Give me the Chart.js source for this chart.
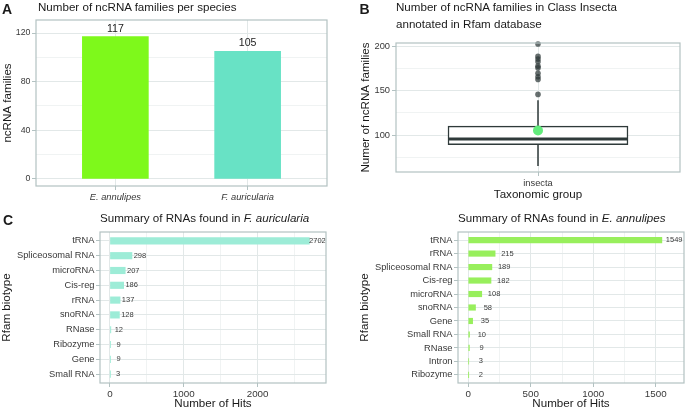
<!DOCTYPE html>
<html>
<head>
<meta charset="utf-8">
<title>ncRNA families</title>
<script src="https://cdn.jsdelivr.net/npm/chart.js@4.4.1/dist/chart.umd.min.js"></script>
<style>
  html, body { margin: 0; padding: 0; background: #fff; }
  #fig { position: relative; width: 685px; height: 413px; overflow: hidden;
         font-family: "Liberation Sans", Arial, sans-serif; color: #1a1a1a; }
  #fig canvas { position: absolute; }
  .tag { position: absolute; font-weight: bold; font-size: 14px; line-height: 1; }
  .ttl { position: absolute; font-size: 11.6px; line-height: 1; white-space: nowrap; }
</style>
</head>
<body>
<div id="fig">
  <canvas id="chartSpecies" width="335" height="205" style="left:0;top:0"></canvas>
  <canvas id="chartInsecta" width="345" height="206" style="left:340px;top:0"></canvas>
  <canvas id="chartFa" width="335" height="213" style="left:0;top:200px"></canvas>
  <canvas id="chartEa" width="345" height="213" style="left:340px;top:200px"></canvas>

  <div class="tag" style="left:2px;top:1.5px">A</div>
  <div class="ttl" style="left:38px;top:1.2px">Number of ncRNA families per species</div>

  <div class="tag" style="left:359.5px;top:1.5px">B</div>
  <div class="ttl" style="left:396px;top:1.2px">Number of ncRNA families in Class Insecta</div>
  <div class="ttl" style="left:396px;top:17.9px">annotated in Rfam database</div>

  <div class="tag" style="left:3px;top:212.5px">C</div>
  <div class="ttl" style="left:100px;top:211.9px">Summary of RNAs found in <i>F. auricularia</i></div>
  <div class="ttl" style="left:458px;top:211.9px">Summary of RNAs found in <i>E. annulipes</i></div>
</div>

<script>
// panel A
const species = ['E. annulipes', 'F. auricularia'];
const familyCounts = [117, 105];
const aYMajor = [0, 40, 80, 120];
const aYMinor = [20, 60, 100];

// panel B (Rfam, class Insecta)
const insectaGroup = ['insecta'];
const insectaBox = [89, 95.5, 110];        // Q1, median, Q3
const insectaWhiskers = [65, 139.5];
const insectaOutliers = [146, 163, 166, 170, 176, 178, 183, 186, 189, 203];
const ourSpecies = [105];
const bYMajor = [100, 150, 200];
const bYMinor = [75, 125, 175];

// panel C, F. auricularia
const faBiotypes = ['tRNA', 'Spliceosomal RNA', 'microRNA', 'Cis-reg', 'rRNA', 'snoRNA', 'RNase', 'Ribozyme', 'Gene', 'Small RNA'];
const faHits = [2702, 298, 207, 186, 137, 128, 12, 9, 9, 3];
const cXMajor = [0, 1000, 2000];
const cXMinor = [500, 1500, 2500];

// panel D, E. annulipes
const eaBiotypes = ['tRNA', 'rRNA', 'Spliceosomal RNA', 'Cis-reg', 'microRNA', 'snoRNA', 'Gene', 'Small RNA', 'RNase', 'Intron', 'Ribozyme'];
const eaHits = [1549, 215, 189, 182, 108, 58, 35, 10, 9, 3, 2];
const dXMajor = [0, 500, 1000, 1500];
const dXMinor = [250, 750, 1250];

const FONT = '"Liberation Sans", Arial, sans-serif';
const GRID_MAJOR = '#e2e8e8';
const GRID_MINOR = '#f0f3f3';
const FRAME = '#b3c2c2';
const TICK_TEXT = '#383838';
const INK = '#1a1a1a';
const BOX = '#2f3a3a';

Chart.defaults.font.family = FONT;
Chart.defaults.font.size = 9.3;
Chart.defaults.color = TICK_TEXT;
Chart.defaults.animation = false;
Chart.defaults.plugins.legend.display = false;
Chart.defaults.plugins.tooltip.enabled = false;

const framePlugin = {
  id: 'frame',
  afterDraw(chart) {
    const { ctx, chartArea: a } = chart;
    ctx.save();
    ctx.strokeStyle = FRAME;
    ctx.lineWidth = 1.2;
    ctx.strokeRect(a.left, a.top, a.right - a.left, a.bottom - a.top);
    ctx.restore();
  },
};

// numbers next to / above bars
const valueLabels = {
  id: 'valueLabels',
  afterDatasetsDraw(chart, args, opts) {
    const { ctx } = chart;
    const horizontal = chart.options.indexAxis === 'y';
    const data = chart.data.datasets[0].data;
    ctx.save();
    ctx.font = `${opts.size}px ${FONT}`;
    ctx.fillStyle = opts.color || '#333';
    ctx.textAlign = 'center';
    chart.getDatasetMeta(0).data.forEach((bar, i) => {
      const d = data[i];
      if (horizontal) {
        ctx.textBaseline = 'middle';
        ctx.fillText(String(d.x), bar.x + opts.offset, bar.y);
      } else {
        ctx.textBaseline = 'alphabetic';
        ctx.fillText(String(d.y), bar.x, bar.y - opts.offset);
      }
    });
    ctx.restore();
  },
};

// median + whiskers for the box
const boxParts = {
  id: 'boxParts',
  afterDatasetDraw(chart, args) {
    if (args.index !== 0) return;
    const { ctx } = chart;
    const y = chart.scales.y;
    const bar = args.meta.data[0];
    const half = bar.width / 2;
    ctx.save();
    ctx.strokeStyle = BOX;
    ctx.lineWidth = 1.5;
    ctx.beginPath();
    ctx.moveTo(bar.x, y.getPixelForValue(insectaBox[2]));
    ctx.lineTo(bar.x, y.getPixelForValue(insectaWhiskers[1]));
    ctx.moveTo(bar.x, y.getPixelForValue(insectaBox[0]));
    ctx.lineTo(bar.x, y.getPixelForValue(insectaWhiskers[0]));
    ctx.stroke();
    ctx.lineWidth = 3;
    ctx.beginPath();
    ctx.moveTo(bar.x - half, y.getPixelForValue(insectaBox[1]));
    ctx.lineTo(bar.x + half, y.getPixelForValue(insectaBox[1]));
    ctx.stroke();
    ctx.restore();
  },
};

function useTicks(major, minor) {
  return (scale) => {
    scale.ticks = major.concat(minor).sort((a, b) => a - b).map((v) => ({ value: v }));
  };
}

function gridFor(major) {
  return {
    color: (c) => (major.includes(c.tick.value) ? GRID_MAJOR : GRID_MINOR),
    tickColor: (c) => (major.includes(c.tick.value) ? FRAME : 'rgba(0,0,0,0)'),
    tickLength: 4,
    offset: false,
  };
}

const axisTitle = (text, pad) => ({ display: true, text, color: INK, font: { size: 11.6 }, padding: pad });

// A
new Chart(document.getElementById('chartSpecies'), {
  type: 'bar',
  data: {
    datasets: [{
      data: species.map((s, i) => ({ x: i + 1, y: familyCounts[i] })),
      backgroundColor: ['#7ef91b', '#68e2c5'],
      barThickness: 66,
    }],
  },
  options: {
    responsive: false,
    layout: { padding: { left: 1, top: 20, right: 8, bottom: 0 } },
    plugins: { valueLabels: { offset: 5, size: 10.6, color: '#222' } },
    scales: {
      x: {
        type: 'linear', min: 0.4, max: 2.6, offset: false,
        afterBuildTicks: (s) => { s.ticks = species.map((_, i) => ({ value: i + 1 })); },
        ticks: { callback: (v) => species[Math.round(v) - 1], font: { style: 'italic' }, padding: 1.5, maxRotation: 0, autoSkip: false },
        grid: { color: GRID_MAJOR, tickColor: FRAME, tickLength: 4, offset: false },
        border: { display: false },
        afterFit: (s) => { s.height = 19; },
      },
      y: {
        min: -5.8, max: 130.7,
        afterBuildTicks: useTicks(aYMajor, aYMinor),
        ticks: { callback: (v) => (aYMajor.includes(v) ? v : ''), padding: 1.5, autoSkip: false, font: { size: 8.8 } },
        grid: gridFor(aYMajor),
        border: { display: false },
        title: axisTitle('ncRNA families', 0),
        afterFit: (s) => { s.width = 35; },
      },
    },
  },
  plugins: [framePlugin, valueLabels],
});

// B
new Chart(document.getElementById('chartInsecta'), {
  type: 'bar',
  data: {
    labels: insectaGroup,
    datasets: [
      {
        data: [[insectaBox[0], insectaBox[2]]],
        backgroundColor: '#ffffff',
        borderColor: BOX,
        borderWidth: 1.5,
        borderSkipped: false,
        barThickness: 180,
        order: 3,
      },
      {
        type: 'scatter',
        data: insectaOutliers.map((y) => ({ x: insectaGroup[0], y })),
        pointRadius: 2.8,
        backgroundColor: 'rgba(45,55,55,0.72)',
        borderWidth: 0,
        clip: false,
        order: 2,
      },
      {
        type: 'scatter',
        data: ourSpecies.map((y) => ({ x: insectaGroup[0], y })),
        pointRadius: 5,
        backgroundColor: '#62ec7c',
        borderWidth: 0,
        order: 1,
      },
    ],
  },
  options: {
    responsive: false,
    layout: { padding: { left: 18.7, top: 43, right: 2, bottom: 0 } },
    scales: {
      x: {
        type: 'category',
        ticks: { padding: 1.5, autoSkip: false },
        grid: { color: GRID_MAJOR, tickColor: FRAME, tickLength: 4, offset: false },
        border: { display: false },
        title: axisTitle('Taxonomic group', { top: 0, bottom: 4 }),
        afterFit: (s) => { s.height = 34; },
      },
      y: {
        min: 58.1, max: 204.2,
        afterBuildTicks: useTicks(bYMajor, bYMinor),
        ticks: { callback: (v) => (bYMajor.includes(v) ? v : ''), padding: 2, autoSkip: false, font: { size: 9.3 } },
        grid: gridFor(bYMajor),
        border: { display: false },
        title: axisTitle('Numer of ncRNA families', 0),
        afterFit: (s) => { s.width = 37.3; },
      },
    },
  },
  plugins: [boxParts, framePlugin],
});

function hitsChart(id, biotypes, hits, color, thick, range, major, minor, pad, yWidth, labelOffset) {
  return new Chart(document.getElementById(id), {
    type: 'bar',
    data: {
      datasets: [{
        data: biotypes.map((b, i) => ({ x: hits[i], y: i + 1 })),
        backgroundColor: color,
        barThickness: thick,
      }],
    },
    options: {
      responsive: false,
      indexAxis: 'y',
      layout: { padding: pad },
      plugins: { valueLabels: { offset: labelOffset, size: 7.5, color: '#3a3a3a' } },
      scales: {
        x: {
          type: 'linear', min: range[0], max: range[1], offset: false,
          afterBuildTicks: useTicks(major, minor),
          ticks: { callback: (v) => (major.includes(v) ? v : ''), padding: 1.5, maxRotation: 0, autoSkip: false, font: { size: 9.8 } },
          grid: gridFor(major),
          border: { display: false },
          title: axisTitle('Number of Hits', { top: 0, bottom: 2 }),
          afterFit: (s) => { s.height = 30; },
        },
        y: {
          type: 'linear', reverse: true, min: 0.4, max: biotypes.length + 0.6, offset: false,
          afterBuildTicks: (s) => { s.ticks = biotypes.map((_, i) => ({ value: i + 1 })); },
          ticks: { callback: (v) => biotypes[Math.round(v) - 1], padding: 1.5, autoSkip: false, font: { size: 9.3 } },
          grid: { color: GRID_MAJOR, tickColor: FRAME, tickLength: 4, offset: false },
          border: { display: false },
          title: axisTitle('Rfam biotype', 0),
          afterFit: (s) => { s.width = yWidth; },
        },
      },
    },
    plugins: [framePlugin, valueLabels],
  });
}

hitsChart('chartFa', faBiotypes, faHits, '#9decd7', 6.5, [-135, 2927], cXMajor, cXMinor,
  { left: 0, top: 32, right: 9, bottom: 0 }, 100, 8);
hitsChart('chartEa', eaBiotypes, eaHits, '#98ef5c', 5.5, [-82, 1726], dXMajor, dXMinor,
  { left: 18.3, top: 32, right: 1, bottom: 0 }, 99.7, 12.3);
</script>
</body>
</html>
